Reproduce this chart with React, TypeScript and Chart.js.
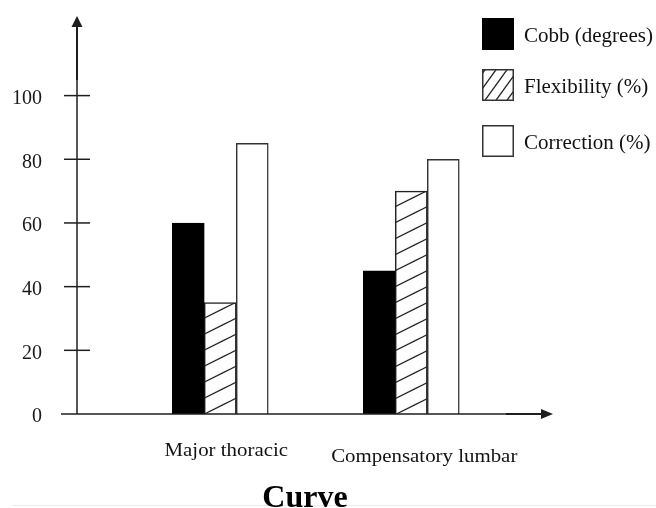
import React, { useEffect, useRef } from 'react';
import { Chart, registerables } from 'chart.js';

Chart.register(...registerables);

const categories = ['Major thoracic', 'Compensatory lumbar'];
const seriesNames = ['Cobb (degrees)', 'Flexibility (%)', 'Correction (%)'];
const cobb = [60, 45];
const flexibility = [35, 70];
const correction = [85, 80];
const yTickValues = [0, 20, 40, 60, 80, 100];
const xAxisTitle = 'Curve';

const SERIF = '"Liberation Serif", "Times New Roman", serif';
const INK = '#1e1e1e';

function makeBarHatch(): CanvasPattern | string {
  const c = document.createElement('canvas');
  c.width = 32;
  c.height = 16;
  const g = c.getContext('2d');
  if (!g) return '#fff';
  g.fillStyle = '#fff';
  g.fillRect(0, 0, 32, 16);
  g.strokeStyle = '#222';
  g.lineWidth = 1.2;
  for (let k = -1; k <= 2; k++) {
    const c0 = 4.25 + 16 * k;
    g.beginPath();
    g.moveTo(-4, c0 + 2);
    g.lineTo(36, c0 - 18);
    g.stroke();
  }
  return g.createPattern(c, 'repeat') || '#fff';
}

const legendTops = [18, 69, 125];
const labelNudgeX = [6, 13];
const labelBaseline = [456, 462];

const decor = {
  id: 'decor',
  beforeDraw(chart: any) {
    const ctx = chart.ctx as CanvasRenderingContext2D;
    ctx.save();
    ctx.fillStyle = '#fff';
    ctx.fillRect(0, 0, chart.width, chart.height);
    ctx.strokeStyle = '#ececec';
    ctx.lineWidth = 1;
    ctx.beginPath();
    ctx.moveTo(12, 505.5);
    ctx.lineTo(chart.width, 505.5);
    ctx.stroke();
    ctx.restore();
  },
  afterDatasetsDraw(chart: any) {
    const ctx = chart.ctx as CanvasRenderingContext2D;
    const a = chart.chartArea;
    const xs = chart.scales.x;
    const ys = chart.scales.y;
    const L = a.left;
    const B = ys.getPixelForValue(0);
    ctx.save();
    ctx.strokeStyle = INK;
    ctx.fillStyle = INK;
    ctx.lineCap = 'butt';

    // y axis
    ctx.lineWidth = 1.5;
    ctx.beginPath();
    ctx.moveTo(L, B);
    ctx.lineTo(L, a.top + 10);
    ctx.stroke();
    ctx.lineWidth = 2;
    ctx.beginPath();
    ctx.moveTo(L, a.top + 64);
    ctx.lineTo(L, a.top + 10);
    ctx.stroke();
    ctx.beginPath();
    ctx.moveTo(L, a.top);
    ctx.lineTo(L - 5.5, a.top + 11);
    ctx.lineTo(L + 5.5, a.top + 11);
    ctx.closePath();
    ctx.fill();

    // x axis
    ctx.lineWidth = 1.5;
    ctx.beginPath();
    ctx.moveTo(L - 16, B);
    ctx.lineTo(a.right - 10, B);
    ctx.stroke();
    ctx.lineWidth = 2;
    ctx.beginPath();
    ctx.moveTo(a.right - 47, B);
    ctx.lineTo(a.right - 10, B);
    ctx.stroke();
    ctx.beginPath();
    ctx.moveTo(a.right, B);
    ctx.lineTo(a.right - 12, B - 5);
    ctx.lineTo(a.right - 12, B + 5);
    ctx.closePath();
    ctx.fill();

    // y tick marks crossing the axis
    ctx.lineWidth = 1.5;
    for (const t of ys.ticks) {
      if (t.value === 0) continue;
      const py = ys.getPixelForValue(t.value);
      ctx.beginPath();
      ctx.moveTo(L - 13, py);
      ctx.lineTo(L + 13, py);
      ctx.stroke();
    }

    // category labels
    ctx.fillStyle = '#111';
    ctx.textAlign = 'center';
    ctx.textBaseline = 'alphabetic';
    ctx.font = `18px ${SERIF}`;
    const sx = 1.16;
    categories.forEach((lab, i) => {
      const cx = xs.getPixelForValue(i + 1) + labelNudgeX[i];
      ctx.save();
      ctx.scale(sx, 1);
      ctx.fillText(lab, cx / sx, labelBaseline[i]);
      ctx.restore();
    });

    // axis title
    ctx.font = `bold 32px ${SERIF}`;
    ctx.fillStyle = '#000';
    ctx.fillText(xAxisTitle, 305, 507);

    // legend
    const boxX = 482;
    const boxS = 32;
    chart.data.datasets.forEach((ds: any, i: number) => {
      const top = legendTops[i];
      ctx.save();
      ctx.fillStyle = i === 0 ? '#000' : '#fff';
      ctx.fillRect(boxX, top, boxS, boxS);
      if (i === 1) {
        ctx.save();
        ctx.beginPath();
        ctx.rect(boxX, top, boxS, boxS);
        ctx.clip();
        ctx.strokeStyle = '#222';
        ctx.lineWidth = 1.3;
        for (let k = -3; k <= 3; k++) {
          const x0 = boxX + 1 + k * 11;
          ctx.beginPath();
          ctx.moveTo(x0, top + boxS + 2);
          ctx.lineTo(x0 + 26, top - 2);
          ctx.stroke();
        }
        ctx.restore();
      }
      ctx.strokeStyle = i === 0 ? '#000' : '#333';
      ctx.lineWidth = 1.5;
      ctx.strokeRect(boxX + 0.75, top + 0.75, boxS - 1.5, boxS - 1.5);
      ctx.fillStyle = '#111';
      ctx.font = `21px ${SERIF}`;
      ctx.textAlign = 'left';
      ctx.textBaseline = 'alphabetic';
      ctx.fillText(ds.label, 524, top + 24);
      ctx.restore();
    });

    ctx.restore();
  },
};

export default function App() {
  const ref = useRef<HTMLCanvasElement | null>(null);

  useEffect(() => {
    if (!ref.current) return;
    const hatch = makeBarHatch();
    const toPoints = (vals: number[]) => vals.map((v, i) => ({ x: i + 1, y: v }));
    const chart = new Chart(ref.current, {
      type: 'bar',
      data: {
        datasets: [
          {
            label: seriesNames[0],
            data: toPoints(cobb),
            backgroundColor: '#000',
            borderColor: '#000',
            borderWidth: 1,
          },
          {
            label: seriesNames[1],
            data: toPoints(flexibility),
            backgroundColor: hatch as any,
            borderColor: '#222',
            borderWidth: 1.5,
          },
          {
            label: seriesNames[2],
            data: toPoints(correction),
            backgroundColor: '#fff',
            borderColor: '#333',
            borderWidth: 1.5,
          },
        ],
      },
      options: {
        animation: false,
        responsive: true,
        maintainAspectRatio: false,
        datasets: { bar: { barThickness: 32 } } as any,
        layout: { padding: { top: 16, bottom: 94, left: 0, right: 103 } },
        plugins: {
          legend: { display: false },
          tooltip: { enabled: false },
          title: { display: false },
        },
        scales: {
          x: {
            type: 'linear',
            display: false,
            offset: false,
            min: 0.25,
            max: 2.742,
          },
          y: {
            type: 'linear',
            min: 0,
            max: 125,
            grid: { display: false, drawTicks: false },
            border: { display: false },
            afterBuildTicks: (s: any) => {
              s.ticks = yTickValues.map((v) => ({ value: v }));
            },
            afterFit: (s: any) => {
              s.width = 77;
              s.paddingTop = 0;
              s.paddingBottom = 0;
            },
            ticks: {
              padding: 35,
              labelOffset: 3,
              color: '#1a1a1a',
              font: { family: SERIF, size: 20 },
            },
          },
        },
      },
      plugins: [decor],
    });
    return () => chart.destroy();
  }, []);

  return (
    <div style={{ position: 'fixed', left: 0, top: 0, width: 656, height: 508, background: '#fff' }}>
      <canvas ref={ref} />
    </div>
  );
}
